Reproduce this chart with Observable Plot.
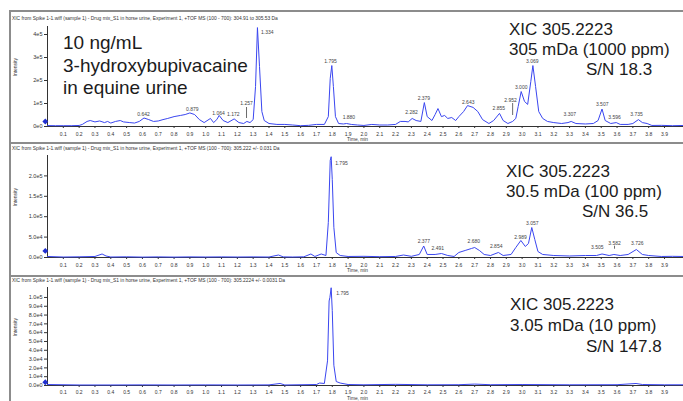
<!DOCTYPE html>
<html><head><meta charset="utf-8">
<script src="https://cdn.jsdelivr.net/npm/d3@7"></script>
<script src="https://cdn.jsdelivr.net/npm/@observablehq/plot@0.6"></script>
<style>
html,body{margin:0;padding:0;background:#fff;overflow:hidden;}
#wrap{position:relative;width:683px;height:401px;overflow:hidden;font-family:"Liberation Sans",Arial,sans-serif;}
.panel{position:absolute;left:0;width:683px;}
.hline{position:absolute;left:9px;right:0;height:2px;background:#8c8c8c;}
.vline{position:absolute;left:9px;top:10px;width:2px;bottom:0;background:#8c8c8c;}
.big{position:absolute;color:#1c1c1c;white-space:nowrap;}
.ttl{position:absolute;left:12px;font-size:4.9px;line-height:6px;color:#333;white-space:nowrap;}
</style></head><body><div id="wrap"></div><script>
// ---------- data ----------
const xTicks = [0.1,0.2,0.3,0.4,0.5,0.6,0.7,0.8,0.9,1.0,1.1,1.2,1.3,1.4,1.5,1.6,1.7,1.8,1.9,2.0,2.1,2.2,2.3,2.4,2.5,2.6,2.7,2.8,2.9,3.0,3.1,3.2,3.3,3.4,3.5,3.6,3.7,3.8,3.9];

const titles = [
  "XIC from Spike 1-1.wiff (sample 1) - Drug mix_S1 in horse urine, Experiment 1, +TOF MS (100 - 700): 304.91 to 305.53 Da",
  "XIC from Spike 1-1.wiff (sample 1) - Drug mix_S1 in horse urine, Experiment 1, +TOF MS (100 - 700): 305.222 +/- 0.031 Da",
  "XIC from Spike 1-1.wiff (sample 1) - Drug mix_S1 in horse urine, Experiment 1, +TOF MS (100 - 700): 305.2224 +/- 0.0031 Da"
];
const sampleText = ["10 ng/mL", "3-hydroxybupivacaine", "in equine urine"];
const xicText = [
  ["XIC 305.2223", "305 mDa (1000 ppm)", "S/N 18.3"],
  ["XIC 305.2223", "30.5 mDa (100 ppm)", "S/N 36.5"],
  ["XIC 305.2223", "3.05 mDa (10 ppm)", "S/N 147.8"]
];

// Panel 1: 304.91 to 305.53 Da
const time1 = [0.00,0.05,0.10,0.15,0.20,0.22,0.25,0.27,0.30,0.33,0.36,0.38,0.40,0.43,0.46,0.48,0.52,0.55,0.58,0.61,0.64,0.67,0.70,0.73,0.76,0.80,0.84,0.87,0.90,0.93,0.96,0.99,1.03,1.05,1.07,1.085,1.11,1.14,1.18,1.21,1.24,1.26,1.28,1.30,1.315,1.327,1.34,1.355,1.37,1.40,1.45,1.50,1.55,1.60,1.65,1.70,1.75,1.775,1.787,1.797,1.807,1.82,1.84,1.87,1.89,1.92,1.96,2.00,2.05,2.10,2.15,2.20,2.23,2.26,2.28,2.305,2.33,2.36,2.382,2.40,2.43,2.45,2.468,2.49,2.51,2.53,2.555,2.58,2.60,2.63,2.655,2.69,2.72,2.75,2.79,2.82,2.857,2.88,2.91,2.94,2.96,2.975,2.994,3.015,3.035,3.055,3.068,3.085,3.105,3.13,3.16,3.20,3.25,3.29,3.31,3.34,3.40,3.45,3.48,3.505,3.525,3.56,3.595,3.62,3.67,3.70,3.735,3.76,3.79,3.82,3.88,3.95,4.02];
const intensity1 = [4000,3500,3500,3500,4500,9000,22000,26000,20000,24000,17000,22000,15000,22000,26000,20000,17000,15000,22000,37000,30000,22000,24000,30000,35000,43000,48000,52000,59000,52000,30000,17000,35000,17000,30000,48000,26000,17000,33000,17000,13000,22000,17000,30000,174000,430000,261000,65000,26000,13000,9000,9000,6500,3500,5000,9000,9000,43000,209000,265000,174000,43000,13000,11000,13000,9000,6500,4500,9000,6500,6500,9000,22000,22000,20000,35000,26000,22000,104000,43000,26000,52000,78000,43000,48000,35000,39000,26000,43000,65000,91000,83000,65000,30000,13000,26000,57000,26000,13000,22000,35000,87000,152000,109000,96000,196000,265000,174000,65000,35000,22000,17000,13000,17000,22000,13000,11000,13000,26000,76000,26000,13000,17000,9000,9000,13000,30000,17000,13000,4500,5000,3500,4500];
const peakText1 = ["0.642","0.879","1.064","1.172","1.257","1.334","1.795","1.880","2.282","2.379","2.643","2.855","2.952","3.000","3.069","3.307","3.507","3.596","3.735"];
const peakTime1 = [0.607,0.915,1.081,1.174,1.258,1.389,1.789,1.905,2.301,2.379,2.659,2.853,2.927,2.994,3.064,3.301,3.506,3.584,3.723];
const peakLevel1 = [52200,74000,57900,50900,98700,410000,282800,37800,62200,123100,105700,77000,113100,168300,282800,52200,94400,40500,50900];
const pointerTime1 = [1.258, 2.94];
const pointerTop1 = [82600, 100000];
const pointerBottom1 = [34800, 47800];
const yTicks1 = [0, 100000, 200000, 300000, 400000];

// Panel 2: 305.222 +/- 0.031 Da
const time2 = [0.00,0.10,0.20,0.30,0.345,0.37,0.40,0.50,0.60,0.70,0.80,0.90,1.00,1.10,1.20,1.30,1.40,1.46,1.49,1.55,1.62,1.665,1.69,1.73,1.76,1.775,1.787,1.793,1.80,1.81,1.825,1.85,1.90,2.00,2.10,2.20,2.25,2.30,2.35,2.378,2.40,2.45,2.49,2.53,2.57,2.60,2.64,2.68,2.70,2.73,2.76,2.80,2.85,2.88,2.93,2.96,2.992,3.02,3.04,3.061,3.08,3.10,3.13,3.20,3.30,3.40,3.47,3.505,3.55,3.58,3.62,3.67,3.722,3.76,3.80,3.88,3.95,4.02];
const intensity2 = [2500,1200,1700,2500,8600,3700,1200,1700,1000,1500,1000,1500,1200,1500,1200,1500,1200,6100,1500,1200,1700,8600,2500,8600,4900,86000,238000,247000,191000,74000,12000,4900,2500,2900,2000,2500,6100,2900,7400,28200,7400,7400,9800,4900,2500,12300,17200,22100,24500,17200,7400,4900,12300,4900,7400,24500,41700,27000,34300,73500,44100,14700,7400,4900,3700,4900,4900,8600,4900,7400,4900,7400,19600,7400,4900,2500,2900,2500];
const peakText2 = ["1.795","2.377","2.491","2.680","2.854","2.989","3.057","3.505","3.582","3.726"];
const peakTime2 = [1.858,2.379,2.467,2.695,2.836,2.990,3.064,3.475,3.584,3.728];
const peakLevel2 = [231100,40000,22000,40000,28400,50500,83300,24500,35800,34300];
const pointerTime2 = [3.584];
const pointerTop2 = [27700];
const pointerBottom2 = [20300];
const yTicks2 = [0, 50000, 100000, 150000, 200000];

// Panel 3: 305.2224 +/- 0.0031 Da
const time3 = [0.00,0.20,0.40,0.60,0.80,1.00,1.20,1.40,1.47,1.50,1.70,1.72,1.75,1.77,1.78,1.785,1.793,1.80,1.81,1.825,1.85,1.90,2.00,2.20,2.40,2.60,2.70,2.80,3.00,3.30,3.60,3.72,3.76,3.90,4.02];
const intensity3 = [1100,600,600,700,600,700,600,700,2300,600,1100,2800,2300,28000,96000,100000,111000,85000,23000,4500,2800,1100,800,1300,800,900,1600,900,1100,800,900,2300,1100,800,800];
const peakText3 = ["1.795"];
const peakTime3 = [1.865];
const peakLevel3 = [104500];
const yTicks3 = [0,10000,20000,30000,40000,50000,60000,70000,80000,90000,100000];

// start-of-trace markers
const markerTime = [-0.014, -0.014, -0.014];
const markerLevel = [21750, 16200, 3700];

// ---------- drawing ----------
const wrap = document.getElementById("wrap");
const fmt0 = d => d3.format(".0e")(d).replace("+", "");
const fmt1 = d => d3.format(".1e")(d).replace("+", "");
const blue = "#3a46f0";
const ink = "#333";

function panel(cfg) {
  const line = cfg.time.map((t, i) => ({t, v: cfg.intensity[i]}));
  const labels = cfg.peakText.map((s, i) => ({s, t: cfg.peakTime[i], v: cfg.peakLevel[i]}));
  const pointers = cfg.pointerTime.map((t, i) => ({t, a: cfg.pointerTop[i], b: cfg.pointerBottom[i]}));
  return Plot.plot({
    width: 683, height: cfg.height,
    marginLeft: 47, marginRight: 0, marginTop: cfg.marginTop, marginBottom: cfg.marginBottom,
    style: {fontFamily: "'Liberation Sans', Arial, sans-serif", color: ink, background: "transparent", overflow: "visible"},
    x: {domain: [0, 4.02]},
    y: {domain: [0, cfg.yMax]},
    marks: [
      Plot.axisY({ticks: cfg.yTicks, tickFormat: cfg.yFmt, tickSize: 3, tickPadding: 2, fontSize: 5.5, label: null, stroke: ink}),
      Plot.axisX({ticks: xTicks, tickFormat: d3.format(".1f"), tickSize: 2, tickPadding: cfg.xPad, fontSize: 5, label: null, stroke: ink}),
      Plot.ruleX([0], {stroke: ink, strokeWidth: 1}),
      Plot.ruleY([0], {stroke: ink, strokeWidth: 1}),
      Plot.line(line, {x: "t", y: "v", stroke: blue, strokeWidth: 1}),
      Plot.ruleX(pointers, {x: "t", y1: "a", y2: "b", stroke: "#444", strokeWidth: 0.8}),
      Plot.text(labels, {x: "t", y: "v", text: "s", fontSize: 5, fill: "#444"}),
      Plot.dot([cfg.marker], {x: d => d[0], y: d => d[1], symbol: "diamond2", r: 2.6, fill: "#1f2fd0", stroke: "none"}),
      Plot.text(["Intensity"], {frameAnchor: "left", rotate: -90, dx: -32, fontSize: 5, fill: ink}),
      Plot.text(["Time, min"], {frameAnchor: "bottom", dx: -8, dy: 14.5, fontSize: 4.8, fill: ink})
    ]
  });
}

const panels = [
  {top: 12, height: 131, marginTop: 14, marginBottom: 17, yMax: 434800, yTicks: yTicks1, yFmt: fmt0, xPad: 4,
   time: time1, intensity: intensity1, peakText: peakText1, peakTime: peakTime1, peakLevel: peakLevel1,
   pointerTime: pointerTime1, pointerTop: pointerTop1, pointerBottom: pointerBottom1},
  {top: 144, height: 131, marginTop: 11, marginBottom: 18, yMax: 250000, yTicks: yTicks2, yFmt: fmt1, xPad: 4,
   time: time2, intensity: intensity2, peakText: peakText2, peakTime: peakTime2, peakLevel: peakLevel2,
   pointerTime: pointerTime2, pointerTop: pointerTop2, pointerBottom: pointerBottom2},
  {top: 277, height: 124, marginTop: 10, marginBottom: 16, yMax: 111300, yTicks: yTicks3, yFmt: fmt1, xPad: 3,
   time: time3, intensity: intensity3, peakText: peakText3, peakTime: peakTime3, peakLevel: peakLevel3,
   pointerTime: [], pointerTop: [], pointerBottom: []}
];

panels.forEach((cfg, i) => {
  cfg.marker = [markerTime[i], markerLevel[i]];
  const div = document.createElement("div");
  div.className = "panel";
  div.style.top = cfg.top + "px";
  div.appendChild(panel(cfg));
  wrap.appendChild(div);
});

// frame lines
function addDiv(cls, css) { const d = document.createElement("div"); d.className = cls; Object.assign(d.style, css); wrap.appendChild(d); return d; }
addDiv("vline", {});
[10, 142, 275].forEach(y => addDiv("hline", {top: y + "px"}));

// titles
[16, 146, 278].forEach((y, i) => { const d = addDiv("ttl", {top: y + "px"}); d.textContent = titles[i]; });

// big annotations
function bigLine(text, left, cy, size, lh) {
  const d = addDiv("big", {left: left + "px", top: (cy - lh / 2) + "px", fontSize: size + "px", lineHeight: lh + "px"});
  d.textContent = text;
}
[43, 66, 88].forEach((cy, i) => bigLine(sampleText[i], 63, cy, 19, 22));
const xicPos = [
  [[509, 30], [509, 50], [586, 70]],
  [[506, 171.7], [506, 191.7], [582, 211.7]],
  [[510, 305], [510, 326], [586, 346.7]]
];
xicPos.forEach((rows, p) => rows.forEach((pos, r) => bigLine(xicText[p][r], pos[0], pos[1], 17, 20)));
</script></body></html>
